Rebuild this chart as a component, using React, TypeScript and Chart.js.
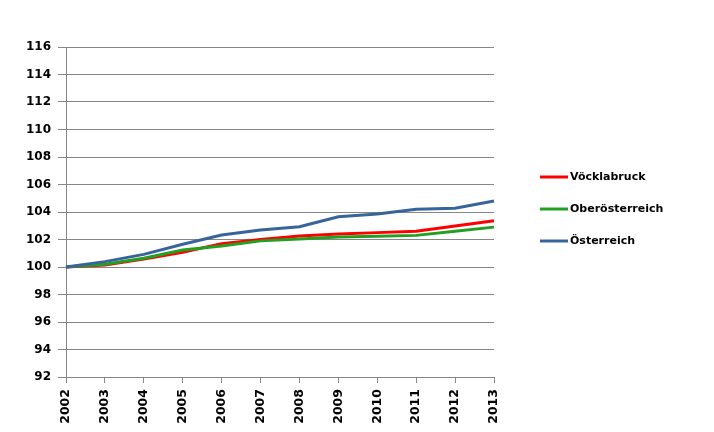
import React, { useEffect, useRef } from "react";
import { Chart, registerables } from "chart.js";

Chart.register(...registerables);

const years = ["2002","2003","2004","2005","2006","2007","2008","2009","2010","2011","2012","2013"];
const voecklabruck = [100, 100.15, 100.58, 101.07, 101.7, 102.0, 102.25, 102.4, 102.5, 102.6, 102.98, 103.37];
const oberoesterreich = [100, 100.2, 100.63, 101.24, 101.53, 101.9, 102.04, 102.18, 102.23, 102.3, 102.6, 102.9];
const oesterreich = [100, 100.39, 100.92, 101.65, 102.33, 102.69, 102.93, 103.66, 103.85, 104.2, 104.27, 104.8];
const seriesNames = ["Vöcklabruck", "Oberösterreich", "Österreich"];
const seriesColors = ["#FF0000", "#22A022", "#38649C"];

const FONT = "'DejaVu Sans', Verdana, sans-serif";

const legendPlugin = {
  id: "customLegend",
  afterDraw(chart: any) {
    const ctx = chart.ctx;
    const x0 = chart.chartArea.right + 46;
    const yStart = 177;
    const gap = 32;
    ctx.save();
    ctx.font = `bold 11px ${FONT}`;
    ctx.textBaseline = "middle";
    ctx.textAlign = "left";
    seriesNames.forEach((name, i) => {
      const y = yStart + i * gap;
      ctx.strokeStyle = seriesColors[i];
      ctx.lineWidth = 3;
      ctx.beginPath();
      ctx.moveTo(x0, y);
      ctx.lineTo(x0 + 28, y);
      ctx.stroke();
      ctx.fillStyle = "#000";
      ctx.fillText(name, x0 + 30, y + 0.5);
    });
    ctx.restore();
  },
};

export default function App() {
  const ref = useRef<HTMLCanvasElement>(null);
  useEffect(() => {
    document.body.style.margin = "0";
    const data = [voecklabruck, oberoesterreich, oesterreich];
    const chart = new Chart(ref.current!, {
      type: "line",
      data: {
        labels: years,
        datasets: data.map((d, i) => ({
          label: seriesNames[i],
          data: d,
          borderColor: seriesColors[i],
          backgroundColor: seriesColors[i],
          borderWidth: 3,
          pointRadius: 0,
          tension: 0,
          order: 2 - i,
        })),
      },
      options: {
        animation: false,
        responsive: false,
        maintainAspectRatio: false,
        layout: { padding: { top: 47, right: 220, left: 0, bottom: 0 } },
        plugins: { legend: { display: false }, tooltip: { enabled: false } },
        scales: {
          x: {
            offset: false,
            grid: { drawOnChartArea: false, drawTicks: true, tickLength: 6, color: "#868686" },
            border: { color: "#868686", width: 1 },
            ticks: {
              minRotation: 90,
              maxRotation: 90,
              padding: 6,
              color: "#000",
              font: { family: FONT, size: 12.5, weight: "bold" },
            },
            afterFit(scale: any) { scale.height = 55; },
          },
          y: {
            min: 92,
            max: 116,
            grid: { color: "#868686", tickLength: 8 },
            border: { color: "#868686", width: 1 },
            ticks: {
              stepSize: 2,
              padding: 7,
              color: "#000",
              font: { family: FONT, size: 12, weight: "bold" },
            },
            afterFit(scale: any) { scale.width = 66; },
          },
        },
      },
      plugins: [legendPlugin],
    });
    return () => chart.destroy();
  }, []);
  return (
    <div style={{ width: 714, height: 432, position: "relative" }}>
      <canvas ref={ref} width={714} height={432} />
    </div>
  );
}
